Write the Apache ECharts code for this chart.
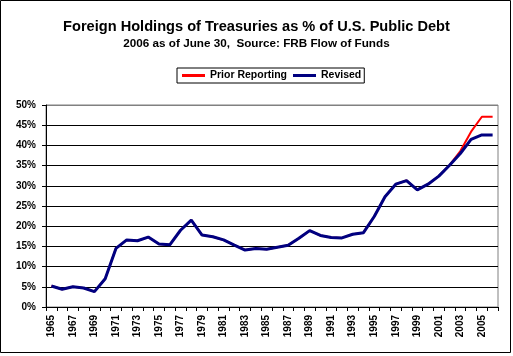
<!DOCTYPE html>
<html>
<head>
<meta charset="utf-8">
<script src="https://cdn.jsdelivr.net/npm/echarts@6/dist/echarts.min.js"></script>
<style>
html,body{margin:0;padding:0;background:#fff;}
#c{width:513px;height:356px;}
</style>
</head>
<body>
<div id="c"></div>
<script>
var years = ['1965','1966','1967','1968','1969','1970','1971','1972','1973','1974',
  '1975','1976','1977','1978','1979','1980','1981','1982','1983','1984',
  '1985','1986','1987','1988','1989','1990','1991','1992','1993','1994',
  '1995','1996','1997','1998','1999','2000','2001','2002','2003','2004',
  '2005','2006'];
var priorReporting = [5.2,4.4,5.0,4.7,3.8,7.0,14.5,16.6,16.4,17.3,
  15.6,15.4,19.0,21.5,17.8,17.4,16.6,15.3,14.1,14.5,
  14.3,14.8,15.3,17.0,18.9,17.7,17.2,17.1,18.0,18.4,
  22.4,27.3,30.4,31.3,29.0,30.4,32.4,35.1,38.6,43.4,
  47.1,47.1];
var revised = [5.2,4.4,5.0,4.7,3.8,7.0,14.5,16.6,16.4,17.3,
  15.6,15.4,19.0,21.5,17.8,17.4,16.6,15.3,14.1,14.5,
  14.3,14.8,15.3,17.0,18.9,17.7,17.2,17.1,18.0,18.4,
  22.4,27.3,30.4,31.3,29.0,30.4,32.4,35.1,38.0,41.5,
  42.6,42.6];
var titleText = 'Foreign Holdings of Treasuries as % of U.S. Public Debt';
var subtitleText = '2006 as of June 30,  Source: FRB Flow of Funds';

var FONT = '"Liberation Sans", Arial, sans-serif';
var chart = echarts.init(document.getElementById('c'), null, {renderer:'canvas'});
var splitColors = [];
for (var i = 0; i < 10; i++) splitColors.push('#000000');
splitColors.push('#808080');

chart.setOption({
  backgroundColor: '#ffffff',
  animation: false,
  title: [
    {text: titleText, left: 'center', top: 19, padding: 0,
     textStyle: {fontFamily: FONT, fontSize: 14.6, fontWeight: 'bold', color: '#000'}},
    {text: subtitleText, left: 'center', top: 38, padding: 0,
     textStyle: {fontFamily: FONT, fontSize: 11.7, fontWeight: 'bold', color: '#000'}}
  ],
  legend: {
    left: 177, top: 68,
    padding: [2, 3, 2, 5],
    borderColor: '#000', borderWidth: 1,
    itemWidth: 23, itemHeight: 3, itemGap: 6,
    icon: 'rect',
    textStyle: {fontFamily: FONT, fontSize: 10.5, fontWeight: 'bold', color: '#000'},
    data: ['Prior Reporting', 'Revised']
  },
  grid: {left: 46, right: 15, top: 105, bottom: 49, show: true,
    borderColor: '#808080', borderWidth: 1, backgroundColor: '#fff'},
  xAxis: {
    type: 'category', data: years, boundaryGap: true,
    axisLine: {lineStyle: {color: '#000', width: 1}},
    axisTick: {show: true, interval: 0, length: 4, lineStyle: {color: '#000'}},
    axisLabel: {interval: 1, rotate: 90, margin: 8,
      fontFamily: FONT, fontSize: 10, fontWeight: 'bold', color: '#000'},
    splitLine: {show: false}
  },
  yAxis: {
    type: 'value', min: 0, max: 50, interval: 5,
    axisLine: {show: true, lineStyle: {color: '#000', width: 1}},
    axisTick: {show: true, length: 4, lineStyle: {color: '#000'}},
    axisLabel: {formatter: '{value}%', margin: 10,
      fontFamily: FONT, fontSize: 10, fontWeight: 'bold', color: '#000'},
    splitLine: {show: true, lineStyle: {color: splitColors, width: 1}}
  },
  series: [
    {name: 'Prior Reporting', type: 'line', data: priorReporting, showSymbol: false,
     symbol: 'none', lineStyle: {color: '#ff0000', width: 2}, itemStyle: {color: '#ff0000'}, z: 2},
    {name: 'Revised', type: 'line', data: revised, showSymbol: false,
     symbol: 'none', lineStyle: {color: '#000080', width: 3}, itemStyle: {color: '#000080'}, z: 3}
  ],
  graphic: [
    {type: 'rect', shape: {x: 0.5, y: 0.5, width: 510, height: 352},
     style: {fill: null, stroke: '#000', lineWidth: 1}, silent: true, z: 100}
  ]
});
</script>
</body>
</html>
